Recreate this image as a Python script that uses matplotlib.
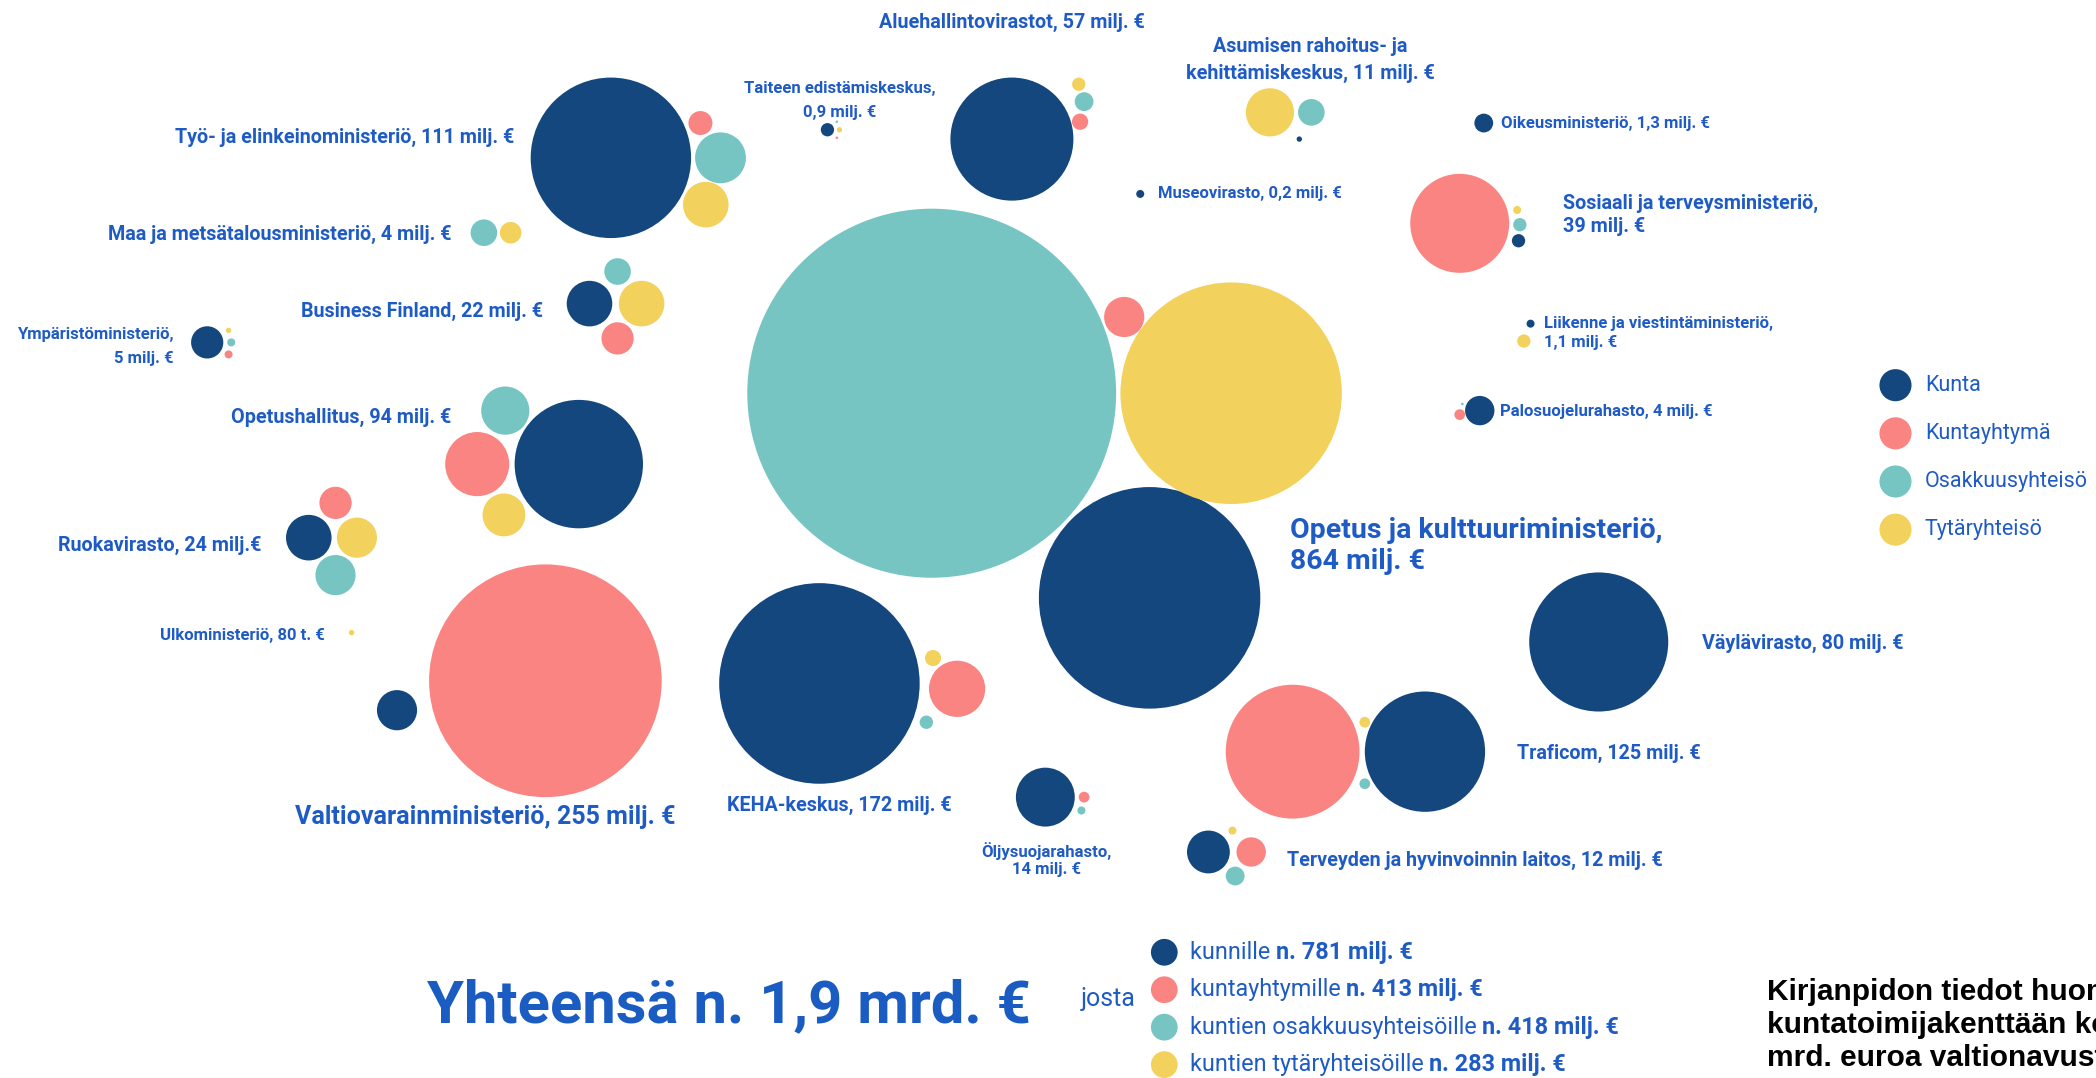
import numpy as np
import matplotlib
matplotlib.use("Agg")
import matplotlib.pyplot as plt
from matplotlib.patches import Circle

FONT = "Roboto"

# --- data (milj. euroa) ---
orgs = ["OKM", "VM", "KEHA", "Oljy", "Traficom", "Vayla", "THL", "TEM", "MMM", "BF",
        "YM", "OPH", "Ruoka", "UM", "Taike", "AVI", "ARA", "OM", "Museo", "STM", "LVM", "Palo"]
kunta       = [222, 7.3, 182, 15.7, 65.5, 87.5, 8.3, 116.5, 0, 9.4, 4.7, 74.6, 9.4, 0, 0.8, 68.5, 0.13, 1.6, 0.29, 0.8, 0.29, 3.9]
kuntayhtyma = [7.3, 245, 14.3, 0.52, 81, 0, 3.9, 2.6, 0, 4.7, 0.29, 18.6, 4.7, 0, 0.03, 1.2, 0, 0, 0, 44.3, 0, 0.52]
osakkuus    = [616, 0, 0.81, 0.29, 0.52, 0, 1.6, 11.7, 3.2, 3.2, 0.29, 10.5, 7.3, 0, 0.03, 1.6, 3.2, 0, 0, 0.8, 0, 0.03]
tytar       = [222, 0, 1.17, 0, 0.52, 0, 0.29, 9.4, 2.1, 9.4, 0.13, 8.3, 7.3, 0.13, 0.13, 0.8, 10.5, 0, 0, 0.29, 0.8, 0]

labels = [
    ["Opetus ja kulttuuriministeriö,", "864 milj. €"],
    ["Valtiovarainministeriö, 255 milj. €"],
    ["KEHA-keskus, 172 milj. €"],
    ["Öljysuojarahasto,", "14 milj. €"],
    ["Traficom, 125 milj. €"],
    ["Väylävirasto, 80 milj. €"],
    ["Terveyden ja hyvinvoinnin laitos, 12 milj. €"],
    ["Työ- ja elinkeinoministeriö, 111 milj. €"],
    ["Maa ja metsätalousministeriö, 4 milj. €"],
    ["Business Finland, 22 milj. €"],
    ["Ympäristöministeriö,", "5 milj. €"],
    ["Opetushallitus, 94 milj. €"],
    ["Ruokavirasto, 24 milj.€"],
    ["Ulkoministeriö, 80 t. €"],
    ["Taiteen edistämiskeskus,", "0,9 milj. €"],
    ["Aluehallintovirastot, 57 milj. €"],
    ["Asumisen rahoitus- ja", "kehittämiskeskus, 11 milj. €"],
    ["Oikeusministeriö, 1,3 milj. €"],
    ["Museovirasto, 0,2 milj. €"],
    ["Sosiaali ja terveysministeriö,", "39 milj. €"],
    ["Liikenne ja viestintäministeriö,", "1,1 milj. €"],
    ["Palosuojelurahasto, 4 milj. €"],
]

categories = ["Kunta", "Kuntayhtymä", "Osakkuusyhteisö", "Tytäryhteisö"]
totals_txt = ["kunnille ", "kuntayhtymille ", "kuntien osakkuusyhteisöille ", "kuntien tytäryhteisöille "]
totals = ["n. 781 milj. €", "n. 413 milj. €", "n. 418 milj. €", "n. 283 milj. €"]
grand_total = "Yhteensä n. 1,9 mrd. €"
note = ["Kirjanpidon tiedot huom", "kuntatoimijakenttään ko", "mrd. euroa valtionavust"]

# --- layout (canvas units 1568 x 806) ---
# bubble centres per org: kunta, kuntayhtymä, osakkuus, tytär
centres = [
    [(860, 447), (841, 237), (697, 294), (921, 294)],
    [(297, 531), (408, 509), None, None],
    [(613, 511), (716, 515), (693, 540), (698, 492)],
    [(782, 596), (811, 596), (809, 606), None],
    [(1066, 562), (967, 562), (1021, 586), (1021, 540)],
    [(1196, 480), None, None, None],
    [(904, 637), (936, 637), (924, 655), (922, 621)],
    [(457, 118), (524, 92), (539, 118), (528, 153)],
    [None, None, (362, 174), (382, 174)],
    [(441, 227), (462, 253), (462, 203), (480, 227)],
    [(155, 256), (171, 265), (173, 256), (171, 247)],
    [(433, 347), (357, 347), (378, 307), (377, 385)],
    [(231, 402), (251, 376), (251, 430), (267, 402)],
    [None, None, None, (263, 473)],
    [(619, 97), (626, 103), (626, 91), (628, 97)],
    [(757, 104), (808, 91), (811, 76), (807, 63)],
    [(972, 104), None, (981, 84), (950, 84)],
    [(1110, 92), None, None, None],
    [(853, 145), None, None, None],
    [(1136, 180), (1092, 167), (1137, 168), (1135, 157)],
    [(1145, 242), None, None, (1140, 255)],
    [(1107, 307), (1092, 310), (1094, 302), None],
]
# label anchor x, y of first line, alignment, size class, line gap
label_pos = [
    (965, 397, "left", "okm", 23), (363, 611, "center", "big", 0), (628, 602, "center", "med", 0),
    (783, 636, "center", "small", 14), (1135, 563, "left", "med", 0), (1273, 481, "left", "med", 0),
    (963, 643, "left", "med", 0), (385, 103, "right", "med", 0), (338, 175, "right", "med", 0),
    (406, 233, "right", "med", 0), (130, 250, "right", "small", 18), (338, 312, "right", "med", 0),
    (196, 408, "right", "med", 0), (243, 475, "right", "small", 0), (628, 66, "center", "small", 18),
    (757, 17, "center", "med", 0), (980, 35, "center", "med", 20), (1123, 92, "left", "small", 0),
    (866, 145, "left", "small", 0), (1169, 152, "left", "med", 17), (1155, 242, "left", "small", 14),
    (1122, 308, "left", "small", 0),
]
sizes = {"okm": 20.5, "big": 18, "med": 14.2, "small": 12}

NAVY, PINK, TEAL, YELLOW = "#13477d", "#fa8482", "#76c5c2", "#f2d15c"
colors = [NAVY, PINK, TEAL, YELLOW]
TXT = "#1f5bc5"
SCALE = np.sqrt(30.9)  # radius = SCALE * sqrt(value)

fig = plt.figure(figsize=(20.96, 10.78), dpi=100)
ax = fig.add_axes([0, 0, 1, 1])
ax.set_xlim(0, 1568)
ax.set_ylim(806, 0)
ax.axis("off")

series = [kunta, kuntayhtyma, osakkuus, tytar]
for i in range(len(orgs)):
    for k in range(4):
        v = series[k][i]
        c = centres[i][k]
        if v > 0 and c is not None:
            ax.add_patch(Circle(c, SCALE * np.sqrt(v), color=colors[k], lw=0))
    x, y, ha, sz, gap = label_pos[i]
    for j, line in enumerate(labels[i]):
        ax.text(x, y + j * gap, line, ha=ha, va="center", fontsize=sizes[sz],
                fontweight="bold", color=TXT, family=FONT)

# category legend
for k, name in enumerate(categories):
    y = 288 + 36 * k
    ax.add_patch(Circle((1418, y), 12, color=colors[k], lw=0))
    ax.text(1440, y, name, ha="left", va="center", fontsize=15.5, color=TXT, family=FONT)

# totals
ax.text(545, 752, grand_total, ha="center", va="center", fontsize=43,
        fontweight="bold", color="#1a5cc1", family=FONT)
ax.text(829, 747, "josta", ha="center", va="center", fontsize=18, color=TXT, family=FONT)
for k in range(4):
    y = 712 + 28 * k
    ax.add_patch(Circle((871, y), 10, color=colors[k], lw=0))
    t = ax.text(890, y, totals_txt[k], ha="left", va="center", fontsize=16.8, color=TXT, family=FONT)
    ax.annotate(totals[k], xy=(1, 0.5), xycoords=t, ha="left", va="center",
                fontsize=16.8, fontweight="bold", color=TXT, family=FONT)

for j, line in enumerate(note):
    ax.text(1322, 742 + 24.5 * j, line, ha="left", va="center", fontsize=21.5,
            fontweight="bold", color="black", family="Liberation Sans")

fig.savefig("out.png", dpi=100, facecolor="white")
